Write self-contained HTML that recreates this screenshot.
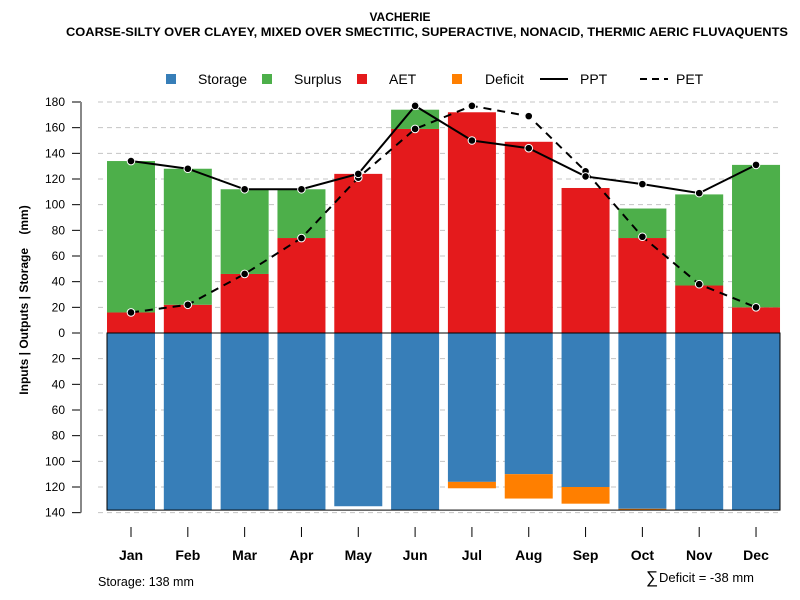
<!DOCTYPE html>
<html><head><meta charset="utf-8"><style>
body{margin:0;background:#fff;}
svg{display:block;font-family:"Liberation Sans",Arial,sans-serif;}
</style></head><body>
<svg id="chart" width="800" height="600">
<text x="400" y="21" text-anchor="middle" font-size="12" font-weight="bold">VACHERIE</text>
<text x="66" y="36" font-size="12" font-weight="bold" textLength="722" lengthAdjust="spacingAndGlyphs">COARSE-SILTY OVER CLAYEY, MIXED OVER SMECTITIC, SUPERACTIVE, NONACID, THERMIC AERIC FLUVAQUENTS</text>
<g font-size="14">
<rect x="166" y="74" width="10" height="10" fill="#377EB8"/>
<text x="198" y="84">Storage</text>
<rect x="262" y="74" width="10" height="10" fill="#4DAF4A"/>
<text x="294" y="84">Surplus</text>
<rect x="357" y="74" width="10" height="10" fill="#E41A1C"/>
<text x="389" y="84">AET</text>
<rect x="452" y="74" width="10" height="10" fill="#FF7F00"/>
<text x="485" y="84">Deficit</text>
<line x1="540" y1="79" x2="568" y2="79" stroke="#000" stroke-width="2"/>
<text x="580" y="84">PPT</text>
<line x1="640" y1="79" x2="668" y2="79" stroke="#000" stroke-width="2" stroke-dasharray="7,5"/>
<text x="676" y="84">PET</text>
</g>
<text transform="translate(28,300) rotate(-90)" text-anchor="middle" font-size="12" font-weight="bold" style="white-space:pre" xml:space="preserve">Inputs | Outputs | Storage    (mm)</text>
<g id="grid"></g><g id="bars"></g><g id="axes"></g><g id="lines"></g>
<text x="98" y="586" font-size="12.5">Storage: 138 mm</text>
<text x="646" y="583" font-size="17">∑</text>
<text x="659" y="582" font-size="13">Deficit = -38 mm</text>
</svg>
<script>
const months=["Jan","Feb","Mar","Apr","May","Jun","Jul","Aug","Sep","Oct","Nov","Dec"];
const aet=[16,22,46,74,124,159,172,149,113,74,37,20];
const surplus=[118,106,66,38,0,15,0,0,0,23,71,111];
const storage=[138,138,138,138,135,138,116,110,120,137,138,138];
const deficit=[0,0,0,0,0,0,5,19,13,1,0,0];
const ppt=[134,128,112,112,124,177,150,144,122,116,109,131];
const pet=[16,22,46,74,121,159,177,169,126,75,38,20];
const ticks=[180,160,140,120,100,80,60,40,20,0,-20,-40,-60,-80,-100,-120,-140];
const NS="http://www.w3.org/2000/svg";
function y(v){return 333-v*1.2833;}
function x(i){return 131+i*56.82;}
const bw=48;
function mk(t,a,p){const e=document.createElementNS(NS,t);for(const k in a)e.setAttribute(k,a[k]);p.appendChild(e);return e;}
const grid=document.getElementById('grid'),bars=document.getElementById('bars'),axes=document.getElementById('axes'),lines=document.getElementById('lines');
ticks.forEach(t=>{
 const g=mk('line',{x1:98,x2:780,y1:y(t),y2:y(t),stroke:'#c4c4c4','stroke-dasharray':'5,4'},grid);
 
 
 const tk=mk('line',{x1:72,x2:81,y1:y(t),y2:y(t),stroke:'#000'},axes);
 
 
 const lb=mk('text',{x:65,y:y(t)+4,'text-anchor':'end','font-size':12},axes);
 lb.textContent=Math.abs(t);
 
 
});
const ax=mk('line',{x1:81,x2:81,y1:y(180),y2:y(-140),stroke:'#888','stroke-width':2},axes);


months.forEach((m,i)=>{
 const l=x(i)-bw/2;
 let r=mk('rect',{x:l,y:y(aet[i]),width:bw,height:aet[i]*1.2833,fill:'#E41A1C'},bars);
 
 
 r=mk('rect',{x:l,y:y(aet[i]+surplus[i]),width:bw,height:surplus[i]*1.2833,fill:'#4DAF4A'},bars);
 
 
 r=mk('rect',{x:l,y:333,width:bw,height:storage[i]*1.2833,fill:'#377EB8'},bars);
 
 
 r=mk('rect',{x:l,y:y(-storage[i]),width:bw,height:deficit[i]*1.2833,fill:'#FF7F00'},bars);
 
 
 const tk=mk('line',{x1:x(i),x2:x(i),y1:527,y2:537,stroke:'#000'},axes);
 
 
 const lb=mk('text',{x:x(i),y:560,'text-anchor':'middle','font-size':14,'font-weight':'bold'},axes);
 lb.textContent=m;
 
 
});
const box=mk('rect',{x:x(0)-bw/2,y:333,width:780-(x(0)-bw/2),height:138*1.2833,fill:'none',stroke:'#000'},bars);


function series(arr,name,dash){
 const p=mk('polyline',{points:arr.map((v,i)=>x(i)+','+y(v)).join(' '),fill:'none',stroke:'#000','stroke-width':2},lines);
 if(dash)p.setAttribute('stroke-dasharray','8,6');
 
 
 arr.forEach((v,i)=>{
  const c=mk('circle',{cx:x(i),cy:y(v),r:3.8,fill:'#000',stroke:'#fff','stroke-width':1},lines);
  
  
 });
}
series(pet,'pet',true);
series(ppt,'ppt',false);
</script>
</body></html>
